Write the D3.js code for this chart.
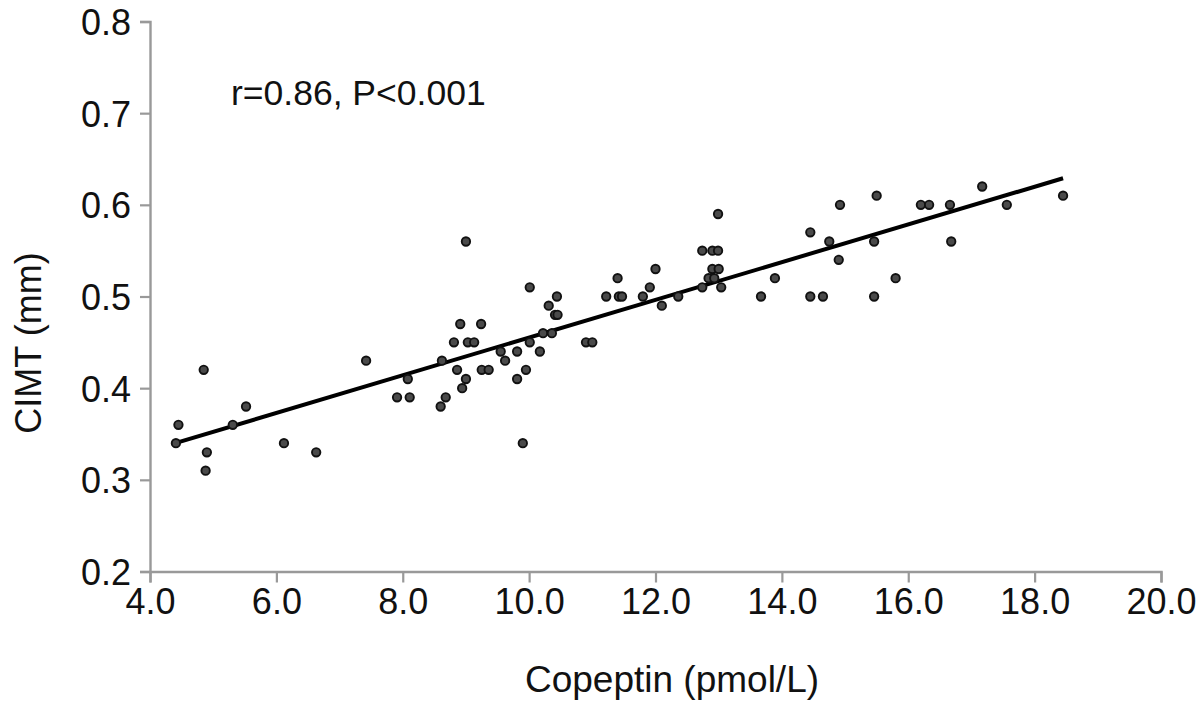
<!DOCTYPE html>
<html><head><meta charset="utf-8">
<script src="https://cdn.jsdelivr.net/npm/d3@7"></script>
<style>body{margin:0;background:#fff}svg{display:block}text{font-family:"Liberation Sans",Arial,Helvetica,sans-serif}</style>
</head><body>
<svg id="c" width="1200" height="702"></svg>
<script>
const copeptin = [4.41,4.45,4.85,4.90,4.88,5.31,5.52,6.12,6.63,7.42,7.91,8.11,8.08,8.60,8.68,8.62,8.81,8.86,8.91,8.94,9.0,9.0,9.03,9.13,9.24,9.25,9.36,9.55,9.62,9.81,9.81,9.95,10.01,10.01,9.90,10.17,10.22,10.31,10.36,10.41,10.45,10.44,10.9,11.0,11.22,11.4,11.42,11.47,11.80,11.91,12.0,12.1,12.36,12.74,12.74,12.84,12.9,12.9,12.99,12.99,12.93,13.0,13.04,13.67,13.89,14.45,14.45,14.65,14.75,14.9,14.92,15.46,15.46,15.5,15.8,16.2,16.33,16.66,16.68,17.17,17.56,18.45];
const cimt = [0.34,0.36,0.42,0.33,0.31,0.36,0.38,0.34,0.33,0.43,0.39,0.39,0.41,0.38,0.39,0.43,0.45,0.42,0.47,0.40,0.41,0.56,0.45,0.45,0.47,0.42,0.42,0.44,0.43,0.44,0.41,0.42,0.45,0.51,0.34,0.44,0.46,0.49,0.46,0.48,0.48,0.50,0.45,0.45,0.50,0.52,0.50,0.50,0.50,0.51,0.53,0.49,0.50,0.51,0.55,0.52,0.53,0.55,0.55,0.59,0.52,0.53,0.51,0.50,0.52,0.57,0.50,0.50,0.56,0.54,0.60,0.56,0.50,0.61,0.52,0.60,0.60,0.60,0.56,0.62,0.60,0.61];
const fitX = [4.4, 18.45];
const fitY = [0.34, 0.629];
const xTicks = [4,6,8,10,12,14,16,18,20];
const yTicks = [0.2,0.3,0.4,0.5,0.6,0.7,0.8];
const annotation = "r=0.86, P<0.001";
const xTitle = "Copeptin (pmol/L)";
const yTitle = "CIMT (mm)";

const svg = d3.select("#c");
const x = d3.scaleLinear().domain([4,20]).range([150,1161]);
const y = d3.scaleLinear().domain([0.2,0.8]).range([571.5,21.5]);

const axisColor = "#999";
const gx = svg.append("g").attr("transform","translate(0,571.5)")
  .call(d3.axisBottom(x).tickValues(xTicks).tickFormat(d3.format(".1f")).tickSize(11).tickPadding(6));
const gy = svg.append("g").attr("transform","translate(150,0)")
  .call(d3.axisLeft(y).tickValues(yTicks).tickFormat(d3.format(".1f")).tickSize(10).tickPadding(9));
[gx,gy].forEach(g=>{
  g.select(".domain").attr("stroke",axisColor).attr("stroke-width",2.4);
  g.selectAll(".tick line").attr("stroke",axisColor).attr("stroke-width",2.2);
  g.selectAll(".tick text").attr("fill","#111").style("font-size","36px");
});
gy.selectAll(".tick text").attr("dy","0.36em");

svg.append("line")
  .attr("x1",x(fitX[0])).attr("y1",y(fitY[0]))
  .attr("x2",x(fitX[1])).attr("y2",y(fitY[1]))
  .attr("stroke","#000").attr("stroke-width",4);

svg.append("g").selectAll("circle").data(copeptin.map((c,i)=>[c,cimt[i]])).join("circle")
  .attr("cx",d=>x(d[0])).attr("cy",d=>y(d[1])).attr("r",4.2)
  .attr("fill","#4a4a4a").attr("stroke","#111").attr("stroke-width",1.9);

svg.append("text").attr("x",231).attr("y",105).style("font-size","35.5px").attr("fill","#111").text(annotation);
svg.append("text").attr("x",672).attr("y",692).attr("text-anchor","middle")
  .style("font-size","37px").attr("fill","#111").text(xTitle);
svg.append("text").attr("transform","translate(41,343) rotate(-90)").attr("text-anchor","middle")
  .style("font-size","36px").attr("fill","#111").text(yTitle);
</script>
</body></html>
